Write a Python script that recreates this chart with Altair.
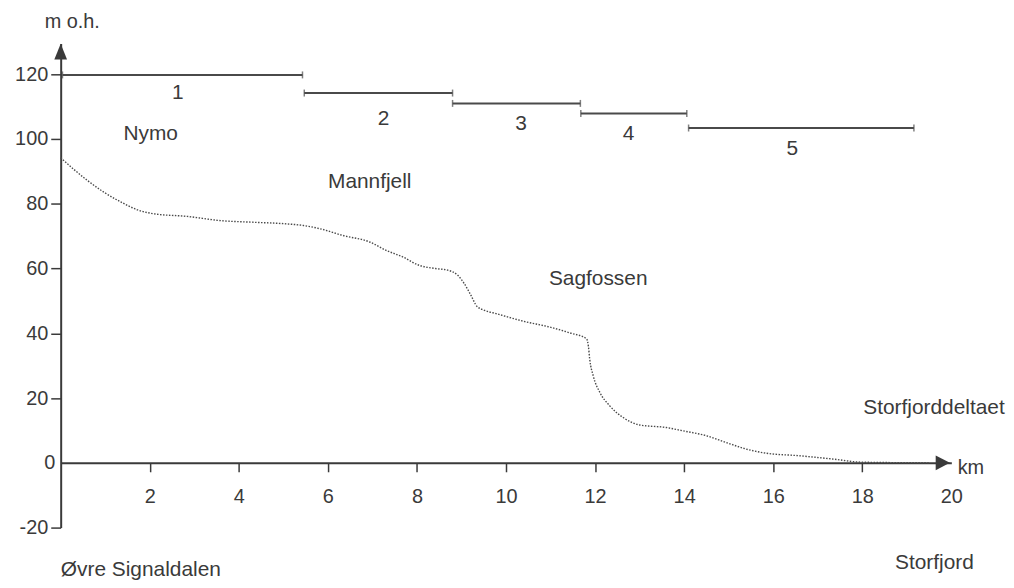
import altair as alt
import pandas as pd

# ---------------- data ----------------
profile_km = [0.0, 0.61, 0.98, 1.36, 1.73, 2.10, 2.84, 3.59, 4.33, 5.07,
              5.45, 5.82, 6.34, 6.94, 7.31, 7.68, 8.05, 8.42, 8.69, 8.91,
              9.06, 9.21, 9.35, 9.50, 9.80, 10.40, 10.99, 11.44, 11.81, 11.85,
              11.88, 11.96, 12.11, 12.33, 12.63, 13.0, 13.6, 13.97, 14.49, 14.94,
              15.38, 15.83, 16.57, 17.32, 17.99, 19.5]
profile_m = [94.2, 87.1, 83.5, 80.5, 78.1, 76.9, 76.1, 74.8, 74.3, 73.8,
             73.3, 72.3, 70.2, 68.2, 65.6, 63.6, 61.0, 60.0, 59.5, 58.0,
             55.4, 51.8, 48.3, 47.2, 46.0, 43.7, 41.9, 40.1, 38.3, 36.0,
             32.0, 26.8, 21.7, 17.6, 14.0, 11.7, 10.9, 9.9, 8.4, 6.3,
             4.3, 3.0, 2.2, 1.2, 0.2, 0.0]

seg_id = ["1", "2", "3", "4", "5"]
seg_start = [0.04, 5.47, 8.80, 11.68, 14.10]
seg_end = [5.43, 8.80, 11.67, 14.06, 19.16]
seg_level = [119.8, 114.2, 111.0, 107.9, 103.4]
seg_label_km = [2.63, 7.25, 10.34, 12.75, 16.43]
seg_label_m = [114.2, 106.1, 104.6, 101.4, 96.8]

place_names = ["Nymo", "Mannfjell", "Sagfossen", "Storfjorddeltaet", "Storfjord", "Øvre Signaldalen"]
place_km = [2.02, 6.94, 12.07, 19.61, 19.62, 1.80]
place_m = [101.5, 86.8, 56.7, 16.9, -30.8, -33.1]

axis_titles = ["m o.h.", "km"]
axis_title_km = [0.26, 20.44]
axis_title_m = [136.2, -1.7]

x_ticks = [2, 4, 6, 8, 10, 12, 14, 16, 18, 20]
y_ticks = [-20, 0, 20, 40, 60, 80, 100, 120]

x_domain = [0, 20]
y_domain = [-20, 129.5]

# ---------------- layout ----------------
W, H = 896, 487
FONT = "Liberation Sans"
INK = "#3a3a3a"
x_offset = -H * (0 - y_domain[0]) / (y_domain[1] - y_domain[0])

profile_df = pd.DataFrame({"km": profile_km, "m": profile_m})
seg_df = pd.DataFrame({"km": seg_start, "km_end": seg_end, "m": seg_level, "id": seg_id})
caps_df = pd.DataFrame({"km": seg_start + seg_end, "m": seg_level + seg_level})
seg_lab_df = pd.DataFrame({"km": seg_label_km, "m": seg_label_m, "t": seg_id})
place_df = pd.DataFrame({"km": place_km, "m": place_m, "t": place_names})
title_df = pd.DataFrame({"km": axis_title_km, "m": axis_title_m, "t": axis_titles})
arrow_df = pd.DataFrame({"km": [19.8, 0.0], "m": [0.0, 127.0], "dir": ["right", "up"]})

xs = alt.Scale(domain=x_domain, nice=False, zero=False)
ys = alt.Scale(domain=y_domain, nice=False, zero=False)

X = alt.X("km:Q", scale=xs, axis=alt.Axis(
    values=x_ticks, title=None, offset=x_offset, grid=False,
    tickSize=9, tickWidth=1.5, tickColor=INK,
    tickOpacity={"condition": {"test": "datum.value === 20", "value": 0}, "value": 1},
    labelExpr="toString(datum.value)",
    labelPadding=15, labelFontSize=20, labelFont=FONT, labelColor=INK,
    domainColor=INK, domainWidth=2, labelFlush=False))
Y = alt.Y("m:Q", scale=ys, axis=alt.Axis(
    values=y_ticks, title=None, grid=False,
    tickSize=10, tickWidth=1.5, tickColor=INK,
    tickOpacity={"condition": {"test": "datum.value === 0", "value": 0}, "value": 1},
    labelPadding={"condition": {"test": "datum.value === 0", "value": -4}, "value": 3},
    labelExpr="toString(datum.value)",
    labelFontSize=20, labelFont=FONT, labelColor=INK,
    domainColor=INK, domainWidth=2, labelFlush=False))

profile = alt.Chart(profile_df).mark_line(
    interpolate="monotone", color="#4a4a4a", strokeWidth=1.4, strokeDash=[1.5, 1.5]
).encode(x=X, y=Y)

segs = alt.Chart(seg_df).mark_rule(color="#4a4a4a", strokeWidth=2).encode(
    x=X, x2="km_end:Q", y=Y)

caps = alt.Chart(caps_df).mark_tick(
    orient="vertical", size=7, thickness=1.5, color="#4a4a4a"
).encode(x=X, y=Y)

seg_text = alt.Chart(seg_lab_df).mark_text(
    font=FONT, fontSize=21, color=INK, align="center", baseline="middle"
).encode(x=X, y=Y, text="t:N")

place_text = alt.Chart(place_df).mark_text(
    font=FONT, fontSize=21, color=INK, align="center", baseline="middle"
).encode(x=X, y=Y, text="t:N")

title_text = alt.Chart(title_df).mark_text(
    font=FONT, fontSize=20, color=INK, align="center", baseline="middle"
).encode(x=X, y=Y, text="t:N")

arrow_r = alt.Chart(arrow_df).transform_filter("datum.dir === 'right'").mark_point(
    shape="M1,0L-0.9,-1L-0.9,1Z", size=225, filled=True, opacity=1, color=INK
).encode(x=X, y=Y)
arrow_u = alt.Chart(arrow_df).transform_filter("datum.dir === 'up'").mark_point(
    shape="M0,-1L-0.8,1L0.8,1Z", size=256, filled=True, opacity=1, color=INK
).encode(x=X, y=Y)

chart = alt.layer(profile, segs, caps, seg_text, place_text, title_text, arrow_r, arrow_u).properties(
    width=W, height=H,
    autosize=alt.AutoSizeParams(type="none"),
    padding={"left": 53, "top": 34, "right": 55, "bottom": 51},
).configure(background="white").configure_view(stroke=None)

chart.save("out.html", embed_options={"renderer": "svg", "actions": False})
